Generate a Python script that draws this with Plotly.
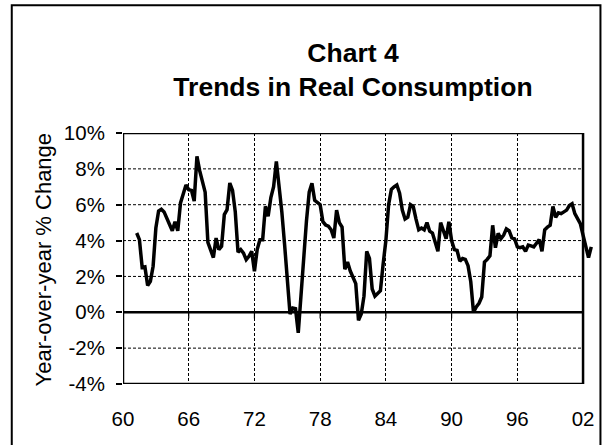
import plotly.graph_objects as go

# ---------------- data ----------------
START_YEAR = 1961
START_QUARTER = 2  # first observation: 1961 Q2

growth = [
    4.42, 4.05, 2.50, 2.53, 1.49, 1.73, 2.57, 4.70, 5.65, 5.75,
    5.60, 5.20, 4.90, 4.55, 5.05, 4.55, 6.10, 6.60, 7.10, 6.84,
    6.80, 6.20, 8.70, 7.90, 7.35, 6.70, 3.90, 3.40, 3.05, 4.14,
    3.50, 3.68, 5.45, 5.72, 7.21, 6.80, 5.60, 3.35, 3.50, 3.30,
    2.94, 3.12, 3.40, 2.29, 3.50, 4.05, 4.05, 5.91, 5.35, 6.40,
    7.00, 8.42, 7.20, 5.60, 3.80, 1.60, -0.10, 0.24, 0.20, -1.15,
    1.00, 2.50, 5.10, 6.70, 7.20, 6.25, 6.10, 6.00, 5.05, 4.87,
    4.80, 4.60, 4.14, 5.70, 5.00, 4.75, 2.40, 2.80, 2.30, 2.00,
    1.60, -0.45, -0.10, 0.90, 3.40, 3.00, 1.30, 0.90, 1.05, 1.20,
    2.70, 4.00, 6.00, 6.85, 7.00, 7.10, 6.65, 5.70, 5.20, 5.30,
    6.00, 5.90, 5.20, 4.60, 4.70, 4.60, 5.00, 4.52, 4.42, 3.90,
    3.40, 5.00, 4.50, 4.10, 5.05, 4.00, 3.50, 3.45, 2.85, 3.00,
    2.95, 2.60, 1.70, 0.00, 0.30, 0.50, 0.85, 2.80, 2.95, 3.15,
    4.85, 3.60, 4.40, 4.10, 4.30, 4.65, 4.55, 4.15, 4.10, 3.65,
    3.60, 3.65, 3.40, 3.75, 3.70, 3.65, 3.85, 4.05, 3.40, 4.60,
    4.75, 4.85, 5.90, 5.30, 5.55, 5.50, 5.60, 5.70, 5.95, 6.05,
    5.50, 5.25, 4.95, 4.30, 3.60, 3.05, 3.65,
]

x_tick_values = [1960, 1966, 1972, 1978, 1984, 1990, 1996, 2002]
x_tick_labels = ["60", "66", "72", "78", "84", "90", "96", "02"]
y_tick_values = [-4, -2, 0, 2, 4, 6, 8, 10]
y_tick_labels = ["-4%", "-2%", "0%", "2%", "4%", "6%", "8%", "10%"]

title_lines = ["Chart 4", "Trends in Real Consumption"]
y_title = "Year-over-year % Change"

# quarterly positions on a decimal-year axis
quarters = [START_YEAR + (START_QUARTER - 1 + i) / 4 for i in range(len(growth))]

# ---------------- geometry ----------------
W, H = 604, 445
PLOT_LEFT = 122.7
PX_PER_YEAR = 10.95
X_MIN, X_AXIS_END, X_MAX = 1960, 2002, 2003
PLOT_TOP, PLOT_BOTTOM = 133.3, 384.3
plot_right = PLOT_LEFT + (X_MAX - X_MIN) * PX_PER_YEAR
plot_w = plot_right - PLOT_LEFT
plot_h = PLOT_BOTTOM - PLOT_TOP


def px_to_paper_x(px):
    return (px - PLOT_LEFT) / plot_w


def px_to_paper_y(py):
    return (PLOT_BOTTOM - py) / plot_h


FONT = "Liberation Sans, Arial, sans-serif"
GRID_DASH = "3px,2px"

fig = go.Figure()
fig.add_trace(go.Scatter(
    x=quarters, y=growth, mode="lines",
    line=dict(color="black", width=3.5),
    hoverinfo="skip", showlegend=False,
))

shapes = []
# horizontal dotted gridlines (only inside the framed area)
for v in y_tick_values:
    if v in (y_tick_values[0], 0, y_tick_values[-1]):
        continue
    shapes.append(dict(type="line", xref="x", yref="y", x0=X_MIN, x1=X_AXIS_END,
                       y0=v, y1=v, layer="below",
                       line=dict(color="black", width=1, dash=GRID_DASH)))
# zero line
shapes.append(dict(type="line", xref="x", yref="y", x0=X_MIN, x1=X_AXIS_END,
                   y0=0, y1=0, line=dict(color="black", width=2.5)))
# small tick marks hanging from the zero line
for t in x_tick_values:
    shapes.append(dict(type="line", xref="x", yref="y", x0=t, x1=t,
                       y0=0, y1=-0.35, line=dict(color="black", width=1.2)))
# plot frame
shapes.append(dict(type="rect", xref="x", yref="y", x0=X_MIN, x1=X_AXIS_END,
                   y0=y_tick_values[0], y1=y_tick_values[-1],
                   line=dict(color="black", width=2.5)))
# outer chart frame
shapes.append(dict(type="rect", xref="paper", yref="paper",
                   x0=px_to_paper_x(11.5), x1=px_to_paper_x(600),
                   y0=px_to_paper_y(470), y1=px_to_paper_y(5.5),
                   line=dict(color="black", width=2)))

fig.update_layout(
    width=W, height=H, autosize=False,
    margin=dict(l=PLOT_LEFT, r=W - plot_right, t=PLOT_TOP, b=H - PLOT_BOTTOM, pad=0),
    paper_bgcolor="white", plot_bgcolor="white",
    font=dict(family=FONT, color="black", size=20.5),
    title=dict(
        text="<br>".join(f"<b>{s}</b>" for s in title_lines),
        xref="container", yref="container",
        x=353 / W, xanchor="center",
        y=1 - 62 / H, yanchor="middle",
        font=dict(family=FONT, size=26.5, color="black"),
    ),
    xaxis=dict(
        range=[X_MIN, X_MAX], tickvals=x_tick_values, ticktext=x_tick_labels,
        showgrid=True, gridcolor="black", gridwidth=1, griddash=GRID_DASH,
        zeroline=False, showline=False, ticks="", ticklabelstandoff=20,
        tickfont=dict(size=20.5), fixedrange=True,
    ),
    yaxis=dict(
        range=[y_tick_values[0], y_tick_values[-1]],
        tickvals=y_tick_values, ticktext=y_tick_labels,
        showgrid=False, zeroline=False, showline=False,
        ticks="outside", ticklen=6, tickwidth=1.5, tickcolor="black",
        ticklabelstandoff=7, tickfont=dict(size=20.5), fixedrange=True,
    ),
    shapes=shapes,
    annotations=[dict(
        text=y_title, textangle=-90, showarrow=False,
        xref="paper", yref="paper",
        x=px_to_paper_x(43.5), y=px_to_paper_y(260), xanchor="center", yanchor="middle",
        font=dict(family=FONT, size=22, color="black"),
    )],
)

# remove the browser's default 8px body margin so the figure sits at (0, 0)
fig.write_html("out.html", config={"displayModeBar": False},
               post_script="document.body.style.margin='0';")
